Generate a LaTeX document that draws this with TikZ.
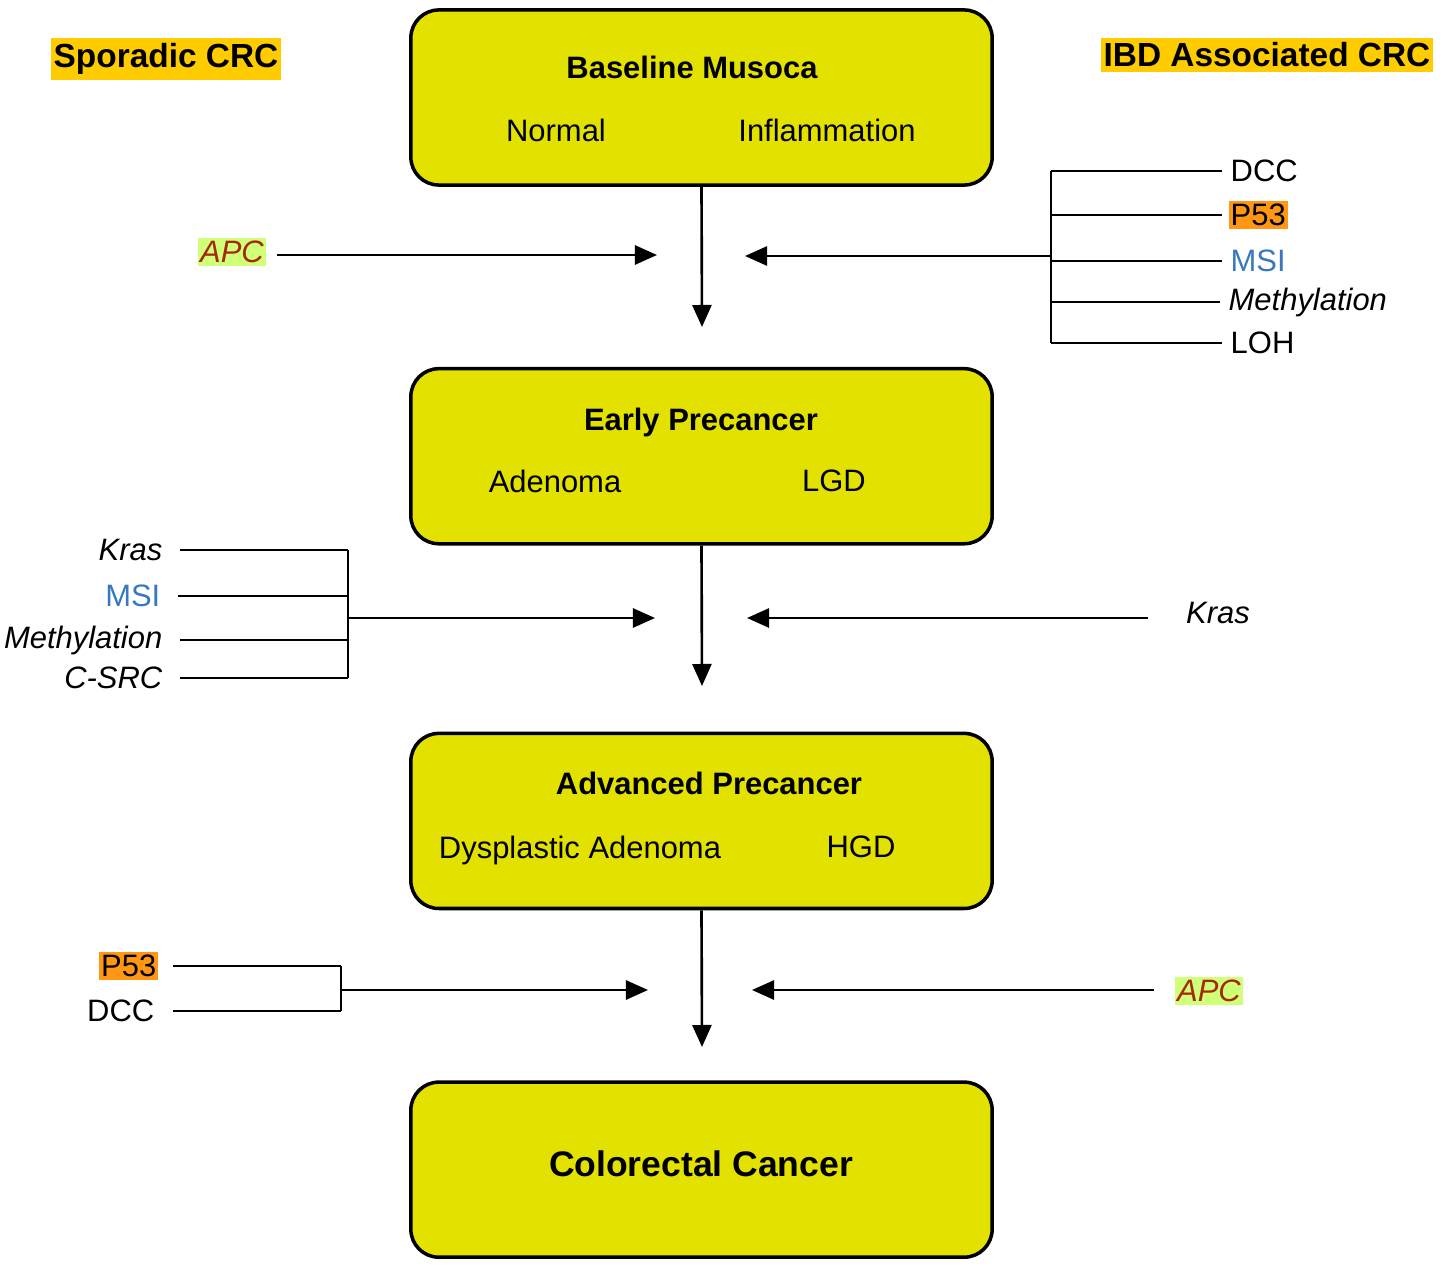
\documentclass[tikz,border=0pt]{standalone}
\usepackage{fontspec}
\setmainfont{Liberation Sans}
\usepackage{tikz}
\usetikzlibrary{arrows.meta, positioning}

\definecolor{stageyellow}{RGB}{226,225,0}
\definecolor{headgold}{RGB}{255,204,0}
\definecolor{porange}{RGB}{255,150,20}
\definecolor{apcgreen}{RGB}{208,255,120}
\definecolor{apcred}{RGB}{165,40,10}
\definecolor{msiblue}{RGB}{55,120,190}

\tikzstyle{stage}  = [rectangle, rounded corners=0.28cm, minimum width=5.81cm,
                      minimum height=1.75cm, draw=black, line width=1pt,
                      fill=stageyellow]
\tikzstyle{title}  = [font=\bfseries\fontsize{8.8}{10}\selectfont, inner sep=0pt]
\tikzstyle{sub}    = [font=\fontsize{8.8}{10}\selectfont, inner sep=0pt]
\tikzstyle{gene}   = [font=\fontsize{8.8}{10}\selectfont, inner xsep=0.02cm,
                      inner ysep=0.03cm]
\tikzstyle{igene}  = [gene, font=\itshape\fontsize{8.8}{10}\selectfont]
\tikzstyle{pgene}  = [gene, fill=porange]
\tikzstyle{apc}    = [igene, fill=apcgreen, text=apcred]
\tikzstyle{msi}    = [gene, text=msiblue]
\tikzstyle{header} = [font=\bfseries\fontsize{9.5}{11}\selectfont, fill=headgold,
                      inner xsep=0.03cm, inner ysep=0.05cm]
\tikzstyle{wire}   = [line width=0.75pt]
\tikzstyle{arrow}  = [wire, -{Triangle[length=0.22cm, width=0.19cm]}]

\begin{document}
\begin{tikzpicture}[x=0.01cm, y=-0.01cm]
  \useasboundingbox (0,0) rectangle (1448,1288);

  % stage boxes
  \node[stage] (base) at (701.5,97.5) {};
  \node[stage, below=1.80cm of base] (early) {};
  \node[stage, below=1.86cm of early] (adv) {};
  \node[stage, below=1.70cm of adv] (crc) {};

  \node[title] (baseT) at (692,67) {Baseline Musoca};
  \node[sub] (baseL) at (556,130) {Normal};
  \node[sub] (baseR) at (827,130) {Inflammation};

  \node[title] (earlyT) at (701,422) {Early Precancer};
  \node[sub] (earlyL) at (555,481) {Adenoma};
  \node[sub] (earlyR) at (834,481) {LGD};

  \node[title] (advT) at (709,783) {Advanced Precancer};
  \node[sub] (advL) at (580,850) {Dysplastic Adenoma};
  \node[sub] (advR) at (861,847) {HGD};

  \node[title, font=\bfseries\fontsize{10.1}{12}\selectfont] (crcT) at (701,1164)
    {Colorectal Cancer};

  \node[header] (spor) at (166,59) {Sporadic CRC};
  \node[header] (ibd) at (1267,55) {IBD Associated CRC};

  % vertical flow
  \coordinate (v1) at (702,327);
  \coordinate (v2) at (702,686);
  \coordinate (v3) at (702,1047);
  \draw[arrow] (base.south) -- (v1);
  \draw[arrow] (early.south) -- (v2);
  \draw[arrow] (adv.south) -- (v3);

  % row 1
  \node[apc] (apcL) at (232,252) {APC};
  \coordinate (a1l) at (657,255);
  \draw[arrow, shorten <=0.1cm] (apcL.east |- a1l) -- (a1l);

  \node[gene, anchor=west] (dccR) at (1228,171) {DCC};
  \node[pgene, anchor=west] (p53R) at (1228,215) {P53};
  \node[msi, anchor=west] (msiR) at (1228,261) {MSI};
  \node[igene, anchor=west] (methR) at (1226,302) {Methylation};
  \node[gene, anchor=west] (lohR) at (1228,343) {LOH};
  \coordinate (rj1) at (1051,256);
  \coordinate (a1r) at (745,256);
  \foreach \g in {dccR, p53R, msiR, methR, lohR}
    \draw[wire, shorten <=0.06cm] (\g.west) -- (\g.west -| rj1);
  \draw[wire] (dccR.west -| rj1) -- (lohR.west -| rj1);
  \draw[arrow] (rj1) -- (a1r);

  % row 2
  \node[igene, anchor=east] (krasL) at (165,550) {Kras};
  \node[msi, anchor=east] (msiL) at (163,596) {MSI};
  \node[igene, anchor=east] (methL) at (165,640) {Methylation};
  \node[igene, anchor=east] (srcL) at (165,678) {C-SRC};
  \coordinate (lj2) at (348,618);
  \coordinate (a2l) at (655,618);
  \foreach \g in {krasL, msiL, methL, srcL}
    \draw[wire, shorten <=0.15cm] (\g.east) -- (\g.east -| lj2);
  \draw[wire] (krasL.east -| lj2) -- (srcL.east -| lj2);
  \draw[arrow] (lj2) -- (a2l);

  \node[igene] (krasR) at (1218,613) {Kras};
  \coordinate (a2r) at (747,618);
  \draw[arrow, shorten <=0.35cm] (krasR.west |- a2r) -- (a2r);

  % row 3
  \node[pgene, anchor=east] (p53L) at (159,966) {P53};
  \node[gene, anchor=east] (dccL) at (157,1011) {DCC};
  \coordinate (lj3) at (341,990);
  \coordinate (a3l) at (648,990);
  \draw[wire, shorten <=0.14cm] (p53L.east) -- (p53L.east -| lj3);
  \draw[wire, shorten <=0.16cm] (dccL.east) -- (dccL.east -| lj3);
  \draw[wire] (p53L.east -| lj3) -- (dccL.east -| lj3);
  \draw[arrow] (lj3) -- (a3l);

  \node[apc] (apcR) at (1209,991) {APC};
  \coordinate (a3r) at (752,990);
  \draw[arrow, shorten <=0.2cm] (apcR.west |- a3r) -- (a3r);
\end{tikzpicture}
\end{document}
